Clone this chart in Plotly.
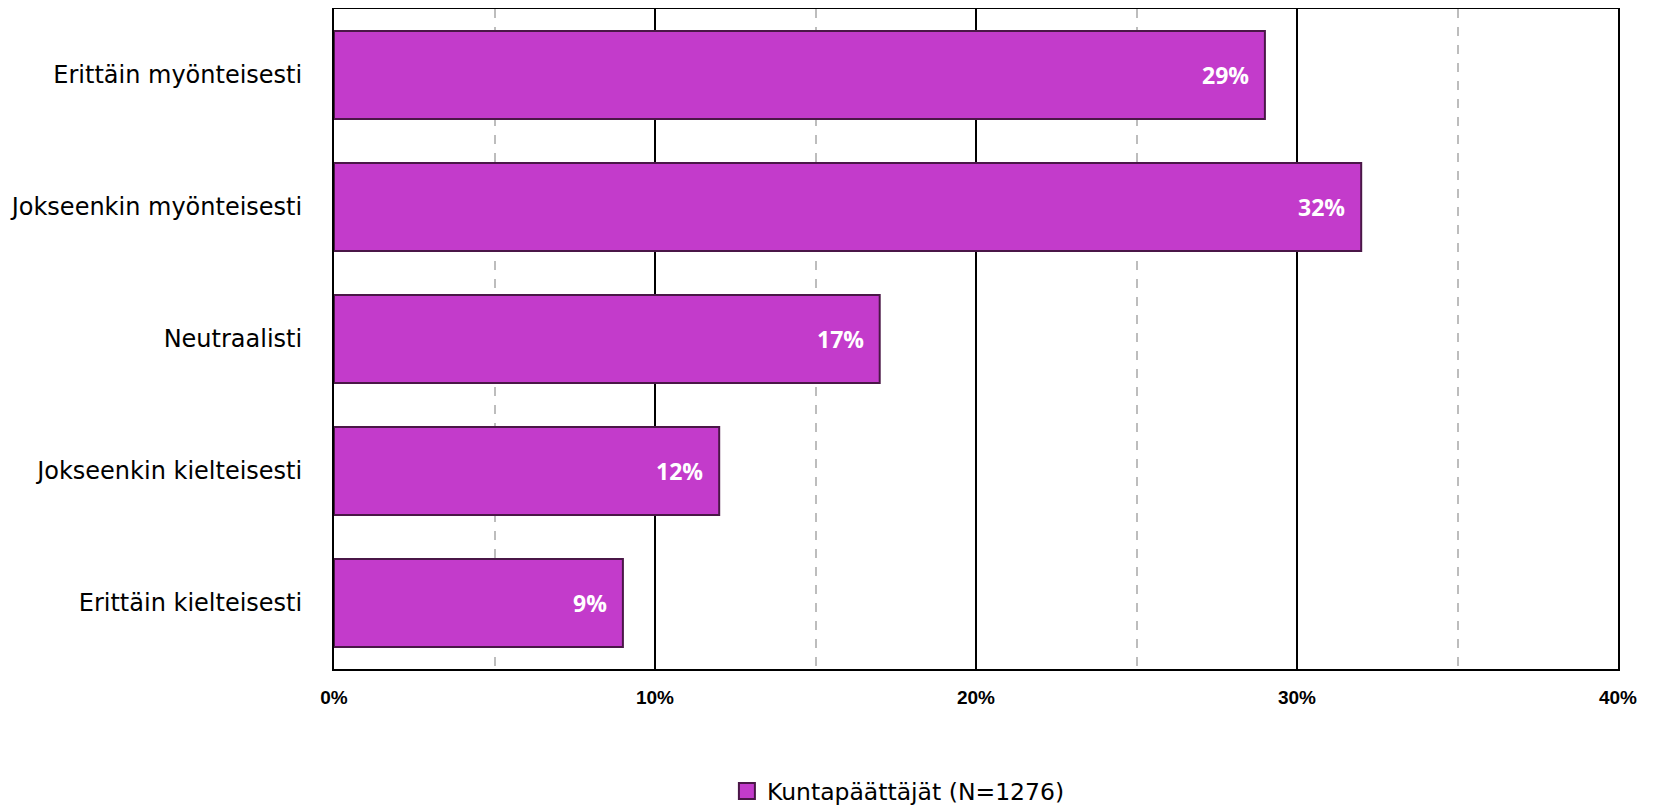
import plotly.graph_objects as go

categories = ["Erittäin myönteisesti", "Jokseenkin myönteisesti", "Neutraalisti",
              "Jokseenkin kielteisesti", "Erittäin kielteisesti"]
values = [0.29, 0.32, 0.17, 0.12, 0.09]
value_labels = ["29%", "32%", "17%", "12%", "9%"]
series_name = "Kuntapäättäjät (N=1276)"

bar_color = "#C33BCB"
edge_color = "#4A1747"

fig = go.Figure()
fig.add_trace(go.Bar(
    x=values, y=categories, orientation="h", name=series_name,
    marker=dict(color=bar_color, line=dict(color=edge_color, width=2)),
    hoverinfo="skip", showlegend=False,
))
# legend entry with a bigger square than the default bar swatch
fig.add_trace(go.Scatter(
    x=[None], y=[None], mode="markers", name=series_name,
    marker=dict(symbol="square", size=16, color=bar_color, line=dict(color=edge_color, width=2)),
))

# value labels inside the bar ends
for cat, val, lab in zip(categories, values, value_labels):
    fig.add_annotation(x=val, y=cat, text=lab, showarrow=False, xanchor="right",
                       xshift=-14, font=dict(family="Open Sans", size=23, color="white", weight="bold"))

# page has an 8px body margin, so margins are shifted to keep the plot box in place
fig.update_layout(
    width=1657, height=806,
    margin=dict(l=326, r=47, t=1, b=136),
    plot_bgcolor="white", paper_bgcolor="white",
    bargap=0.333,
    showlegend=True,
    legend=dict(orientation="h", x=0.306, xanchor="left", y=-0.185, yanchor="middle",
                font=dict(family="DejaVu Sans", size=23.5, color="black")),
)

fig.update_xaxes(
    range=[0, 0.4], dtick=0.1, tickformat=".0%",
    showgrid=True, gridcolor="black", gridwidth=1.5,
    minor=dict(dtick=0.05, showgrid=True, gridcolor="#BDBDBD", gridwidth=1.5, griddash="dash"),
    showline=True, linecolor="black", linewidth=2, mirror=True,
    ticks="", ticklabelstandoff=10, automargin=False,
    tickfont=dict(family="Liberation Sans", size=19, color="black", weight="bold"),
    zeroline=False,
)
fig.update_yaxes(
    autorange="reversed", automargin=False,
    showline=True, linecolor="black", linewidth=2, mirror=True,
    ticks="", ticklabelstandoff=25,
    tickfont=dict(family="DejaVu Sans", size=24, color="black"),
)

fig.write_html("out.html")
